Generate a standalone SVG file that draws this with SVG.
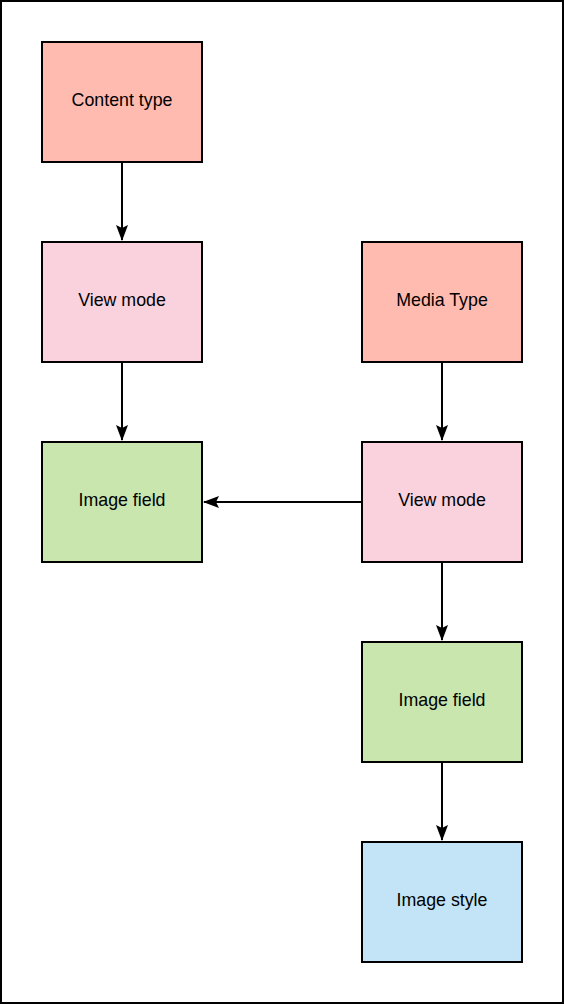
<svg xmlns="http://www.w3.org/2000/svg" width="564" height="1004" viewBox="0 0 564 1004">
<style>
.n{stroke:#000;stroke-width:2}
.t{font-family:"Liberation Sans",Arial,sans-serif;font-size:17.8px;fill:#000;text-anchor:middle}
.c{stroke:#000;stroke-width:2;fill:none}
.red{fill:#FFBBB0}
.pink{fill:#F9D2DD}
.green{fill:#C8E6AD}
.blue{fill:#C3E3F6}
</style>
<defs>
<marker id="ah" viewBox="0 0 16 12" refX="15" refY="6" markerWidth="16" markerHeight="12" markerUnits="userSpaceOnUse" orient="auto">
<path d="M0,0 L16,6 L0,12 L3,6 Z" fill="#000"/>
</marker>
</defs>
<rect x="1" y="1" width="562" height="1002" fill="#fff" stroke="#000" stroke-width="2"/>
<g id="connectors">
<path class="c" d="M122,162 V240" marker-end="url(#ah)"/>
<path class="c" d="M122,362 V440" marker-end="url(#ah)"/>
<path class="c" d="M442,362 V440" marker-end="url(#ah)"/>
<path class="c" d="M362,502 H204" marker-end="url(#ah)"/>
<path class="c" d="M442,562 V640" marker-end="url(#ah)"/>
<path class="c" d="M442,762 V840" marker-end="url(#ah)"/>
</g>
<g id="content-type"><rect class="n red" x="42" y="42" width="160" height="120"/><text class="t" x="122" y="105.5">Content type</text></g>
<g id="view-mode-1"><rect class="n pink" x="42" y="242" width="160" height="120"/><text class="t" x="122" y="305.5">View mode</text></g>
<g id="image-field-1"><rect class="n green" x="42" y="442" width="160" height="120"/><text class="t" x="122" y="505.5">Image field</text></g>
<g id="media-type"><rect class="n red" x="362" y="242" width="160" height="120"/><text class="t" x="442" y="305.5">Media Type</text></g>
<g id="view-mode-2"><rect class="n pink" x="362" y="442" width="160" height="120"/><text class="t" x="442" y="505.5">View mode</text></g>
<g id="image-field-2"><rect class="n green" x="362" y="642" width="160" height="120"/><text class="t" x="442" y="705.5">Image field</text></g>
<g id="image-style"><rect class="n blue" x="362" y="842" width="160" height="120"/><text class="t" x="442" y="905.5">Image style</text></g>
</svg>
